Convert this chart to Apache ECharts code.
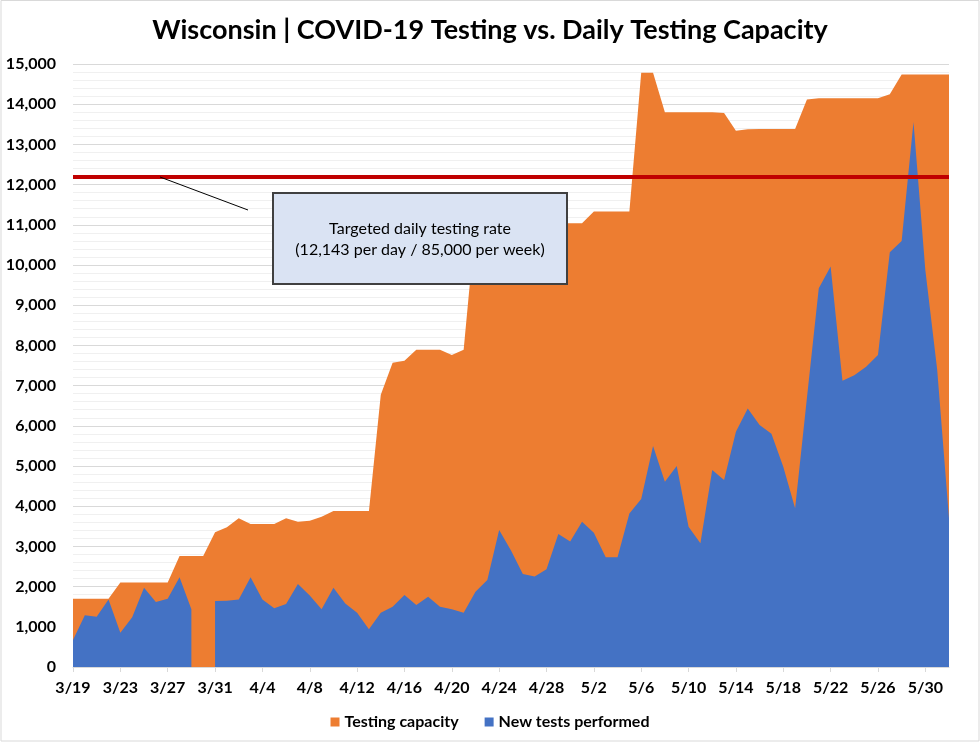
<!DOCTYPE html>
<html>
<head>
<meta charset="utf-8">
<script src="https://cdn.jsdelivr.net/npm/echarts@6/dist/echarts.min.js"></script>
<style>
html,body{margin:0;padding:0;background:#fff;}
#chart{width:980px;height:743px;}
</style>
</head>
<body>
<div id="chart"></div>
<script>
const dates = ["3/19","3/20","3/21","3/22","3/23","3/24","3/25","3/26","3/27","3/28","3/29","3/30","3/31",
  "4/1","4/2","4/3","4/4","4/5","4/6","4/7","4/8","4/9","4/10","4/11","4/12","4/13","4/14","4/15","4/16","4/17","4/18","4/19","4/20","4/21","4/22","4/23","4/24","4/25","4/26","4/27","4/28","4/29","4/30",
  "5/1","5/2","5/3","5/4","5/5","5/6","5/7","5/8","5/9","5/10","5/11","5/12","5/13","5/14","5/15","5/16","5/17","5/18","5/19","5/20","5/21","5/22","5/23","5/24","5/25","5/26","5/27","5/28","5/29","5/30","5/31","6/1"];

const testingCapacity = [1700,1700,1700,1700,2100,2100,2100,2100,2100,2760,2760,2760,
  3350,3475,3700,3560,3560,3560,3700,3615,3640,3740,3880,3880,3880,3880,
  6770,7570,7620,7890,7890,7890,7760,7890,
  11040,11040,11040,11040,11040,11040,11040,11040,11040,11040,
  11330,11330,11330,11330,
  14780,14780,
  13800,13800,13800,13800,13800,13780,
  13340,13375,13380,13380,13380,13380,
  14120,14150,14150,14150,14150,14150,14150,
  14250,
  14740,14740,14740,14740,14740];

const newTests = [670,1290,1250,1680,850,1235,1970,1615,1700,2230,1435,null,
  1640,1650,1680,2230,1680,1460,1570,2065,1780,1435,1970,1580,1350,937,
  1350,1500,1790,1540,1750,1500,1435,1350,1875,2165,3410,2900,2315,2250,2430,
  3310,3120,3615,3340,2730,2730,3820,4180,5500,4610,5000,3490,3080,4900,4650,
  5850,6430,6020,5800,4980,3950,6700,9420,9960,7120,7260,7470,7760,
  10320,10600,13560,9875,7400,3700];

// target line as drawn in the picture (labelled 12,143 per day)
const targetRate = 12190;
const yTicks = {min: 0, max: 15000, interval: 1000};
const titleText = "Wisconsin | COVID-19 Testing vs. Daily Testing Capacity";
const noteLines = ["Targeted daily testing rate", "(12,143 per day / 85,000 per week)"];

const FONT = "Lato, 'Open Sans', sans-serif";
const chart = echarts.init(document.getElementById('chart'), null, {renderer: 'canvas'});

chart.setOption({
  animation: false,
  backgroundColor: '#ffffff',
  title: {
    text: titleText,
    left: 'center',
    top: 12,
    textStyle: {fontFamily: FONT, fontWeight: 'bold', fontSize: 27, color: '#000'}
  },
  legend: {
    data: ['Testing capacity', 'New tests performed'],
    left: 'center',
    top: 709,
    icon: 'rect',
    itemWidth: 9,
    itemHeight: 9,
    itemGap: 26,
    textStyle: {fontFamily: FONT, fontWeight: 'bold', fontSize: 16, color: '#000'}
  },
  grid: {left: 73, right: 31, top: 64, bottom: 76, containLabel: false},
  xAxis: {
    type: 'category',
    data: dates,
    boundaryGap: false,
    axisLine: {show: true, lineStyle: {color: '#D9D9D9', width: 1}},
    axisTick: {show: true, interval: 3, length: 5, lineStyle: {color: '#D9D9D9'}},
    axisLabel: {interval: 3, margin: 13, fontFamily: FONT, fontWeight: 'bold', fontSize: 16, color: '#000'},
    splitLine: {show: false}
  },
  yAxis: {
    type: 'value',
    min: yTicks.min,
    max: yTicks.max,
    interval: yTicks.interval,
    axisLine: {show: false},
    axisTick: {show: false},
    axisLabel: {
      margin: 17, fontFamily: FONT, fontWeight: 'bold', fontSize: 16, color: '#000',
      formatter: v => v.toLocaleString('en-US')
    },
    splitLine: {show: true, lineStyle: {color: '#D9D9D9', width: 1}},
    minorTick: {show: false, splitNumber: 5},
    minorSplitLine: {show: true, lineStyle: {color: '#F0F0F0', width: 1}}
  },
  series: [
    {
      name: 'Testing capacity',
      type: 'line',
      data: testingCapacity,
      symbol: 'none',
      color: '#ED7D31',
      lineStyle: {width: 0},
      areaStyle: {color: '#ED7D31', opacity: 1},
      z: 2
    },
    {
      name: 'New tests performed',
      type: 'line',
      data: newTests,
      symbol: 'none',
      connectNulls: false,
      color: '#4472C4',
      lineStyle: {width: 0},
      areaStyle: {color: '#4472C4', opacity: 1},
      z: 3,
      markLine: {
        silent: true,
        symbol: ['none', 'none'],
        label: {show: false},
        lineStyle: {color: '#C00000', width: 4, type: 'solid'},
        data: [{yAxis: targetRate}]
      }
    }
  ],
  graphic: [
    {
      type: 'rect', z: 100,
      shape: {x: 1, y: 0.5, width: 978, height: 740.5},
      style: {fill: 'none', stroke: '#D9D9D9', lineWidth: 1}
    },
    {
      type: 'line', z: 100,
      shape: {x1: 160, y1: 177, x2: 248, y2: 210},
      style: {stroke: '#000', lineWidth: 1}
    },
    {
      type: 'rect', z: 100,
      shape: {x: 273, y: 193, width: 294, height: 91},
      style: {fill: '#DAE3F3', stroke: '#404040', lineWidth: 2}
    },
    {
      type: 'text', z: 101,
      x: 420, y: 229,
      style: {text: noteLines[0], fontFamily: FONT, fontSize: 16, fill: '#000', align: 'center', verticalAlign: 'middle'}
    },
    {
      type: 'text', z: 101,
      x: 420, y: 250,
      style: {text: noteLines[1], fontFamily: FONT, fontSize: 16, fill: '#000', align: 'center', verticalAlign: 'middle'}
    }
  ]
});
</script>
</body>
</html>
